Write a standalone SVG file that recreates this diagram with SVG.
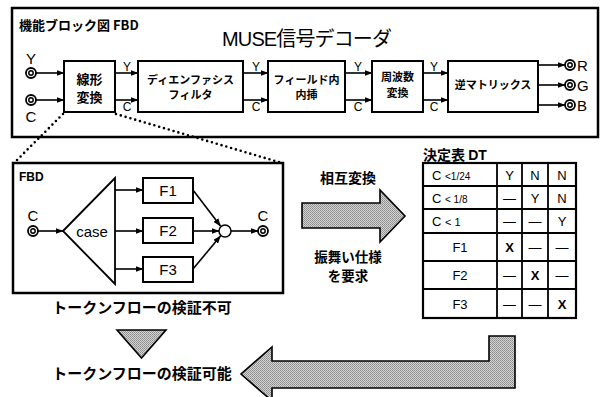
<svg xmlns="http://www.w3.org/2000/svg" width="604" height="397" viewBox="0 0 604 397">
<style>
.box{fill:#fff;stroke:#000;stroke-width:2}
.ln{fill:none;stroke:#000;stroke-width:1.6}
.jp{font-family:"Noto Sans CJK JP","Noto Sans",sans-serif;font-weight:bold;fill:#000}
.lat{font-family:"Liberation Sans",Arial,sans-serif;fill:#000}
.dot{fill:none;stroke:#000;stroke-width:2.6;stroke-linecap:round;stroke-dasharray:0 5}
.gray{fill:url(#dither);stroke:#000;stroke-width:1.6}
</style>
<defs>
<marker id="ah" markerWidth="8" markerHeight="6" refX="7.5" refY="3" orient="auto" markerUnits="userSpaceOnUse">
<path d="M0,0 L8,3 L0,6 Z" fill="#000"/>
</marker>
<pattern id="dither" width="2" height="2" patternUnits="userSpaceOnUse">
<rect width="2" height="2" fill="#d4d4d4"/>
<rect width="1" height="1" fill="#8a8a8a"/>
<rect x="1" y="1" width="1" height="1" fill="#9a9a9a"/>
</pattern>
<g id="jack"><circle r="5" fill="#fff" stroke="#000" stroke-width="1.8"/><circle r="2.2" fill="none" stroke="#000" stroke-width="1.5"/></g>
</defs>

<!-- Top FBD frame -->
<g id="fbd-main">
<rect x="12" y="8" width="586" height="129" fill="#fff" stroke="#000" stroke-width="2.5"/>
<text class="jp" x="19" y="30" font-size="13">機能ブロック図 FBD</text>
<text class="lat" x="222" y="46" font-size="20" textLength="170" font-family="'Liberation Sans','Noto Sans CJK JP',sans-serif">MUSE<tspan font-family="'Noto Sans CJK JP',sans-serif">信号デコーダ</tspan></text>
</g>

<g id="in-Y"><use href="#jack" x="31" y="73"/><text class="lat" x="31" y="64" font-size="15" text-anchor="middle">Y</text></g>
<g id="in-C"><use href="#jack" x="31" y="100"/><text class="lat" x="31" y="122" font-size="15" text-anchor="middle">C</text></g>

<g id="b-linear"><rect class="box" x="64" y="61" width="51" height="51"/>
<text class="jp" x="89.5" y="84" font-size="13" text-anchor="middle">線形</text>
<text class="jp" x="89.5" y="102" font-size="13" text-anchor="middle">変換</text></g>
<g id="b-deemph"><rect class="box" x="138" y="61" width="105" height="51"/>
<text class="jp" x="190.5" y="84" font-size="11" text-anchor="middle">ディエンファシス</text>
<text class="jp" x="190.5" y="99" font-size="11" text-anchor="middle">フィルタ</text></g>
<g id="b-field"><rect class="box" x="268" y="61" width="77" height="51"/>
<text class="jp" x="306.5" y="84" font-size="11" text-anchor="middle">フィールド内</text>
<text class="jp" x="306.5" y="99" font-size="11" text-anchor="middle">内挿</text></g>
<g id="b-freq"><rect class="box" x="372" y="61" width="51" height="51"/>
<text class="jp" x="397.5" y="81" font-size="11" text-anchor="middle">周波数</text>
<text class="jp" x="397.5" y="97" font-size="11" text-anchor="middle">変換</text></g>
<g id="b-matrix"><rect class="box" x="448" y="61" width="90" height="51"/>
<text class="jp" x="493" y="89" font-size="11" text-anchor="middle">逆マトリックス</text></g>

<g id="out-R"><use href="#jack" x="570" y="65"/><text class="lat" x="577" y="70.5" font-size="15">R</text></g>
<g id="out-G"><use href="#jack" x="570" y="85"/><text class="lat" x="577" y="90.5" font-size="15">G</text></g>
<g id="out-B"><use href="#jack" x="570" y="105"/><text class="lat" x="577" y="110.5" font-size="15">B</text></g>

<g id="connectors">
<line class="ln" x1="36" y1="73" x2="64" y2="73" marker-end="url(#ah)"/>
<line class="ln" x1="36" y1="100" x2="64" y2="100" marker-end="url(#ah)"/>
<line class="ln" x1="115" y1="73" x2="138" y2="73" marker-end="url(#ah)"/>
<line class="ln" x1="115" y1="100" x2="138" y2="100" marker-end="url(#ah)"/>
<line class="ln" x1="243" y1="73" x2="268" y2="73" marker-end="url(#ah)"/>
<line class="ln" x1="243" y1="100" x2="268" y2="100" marker-end="url(#ah)"/>
<line class="ln" x1="345" y1="73" x2="372" y2="73" marker-end="url(#ah)"/>
<line class="ln" x1="345" y1="100" x2="372" y2="100" marker-end="url(#ah)"/>
<line class="ln" x1="423" y1="73" x2="448" y2="73" marker-end="url(#ah)"/>
<line class="ln" x1="423" y1="100" x2="448" y2="100" marker-end="url(#ah)"/>
<line class="ln" x1="538" y1="65" x2="565" y2="65" marker-end="url(#ah)"/>
<line class="ln" x1="538" y1="85" x2="565" y2="85" marker-end="url(#ah)"/>
<line class="ln" x1="538" y1="105" x2="565" y2="105" marker-end="url(#ah)"/>
<g class="lat" font-size="12">
<text x="127" y="71" text-anchor="middle">Y</text><text x="127" y="111" text-anchor="middle">C</text>
<text x="256" y="71" text-anchor="middle">Y</text><text x="256" y="111" text-anchor="middle">C</text>
<text x="358" y="71" text-anchor="middle">Y</text><text x="358" y="111" text-anchor="middle">C</text>
<text x="434" y="71" text-anchor="middle">Y</text><text x="434" y="111" text-anchor="middle">C</text>
</g>
<line class="dot" x1="63" y1="114" x2="14" y2="163"/>
<line class="dot" x1="116" y1="114" x2="282" y2="163"/>
<!-- lower FBD -->
<line class="ln" x1="37" y1="231" x2="63" y2="231" marker-end="url(#ah)"/>
<line class="ln" x1="115" y1="190" x2="143" y2="190" marker-end="url(#ah)"/>
<line class="ln" x1="115" y1="231" x2="143" y2="231" marker-end="url(#ah)"/>
<line class="ln" x1="115" y1="269" x2="143" y2="269" marker-end="url(#ah)"/>
<line class="ln" x1="193" y1="190" x2="220.5" y2="226" marker-end="url(#ah)"/>
<line class="ln" x1="193" y1="231" x2="219" y2="231" marker-end="url(#ah)"/>
<line class="ln" x1="193" y1="269" x2="220.5" y2="236" marker-end="url(#ah)"/>
<line class="ln" x1="231" y1="231" x2="258" y2="231" marker-end="url(#ah)"/>
</g>

<g id="fbd-sub">
<rect x="13" y="163" width="270" height="130" fill="none" stroke="#000" stroke-width="2.5"/>
<text class="lat" x="19" y="181" font-size="12" font-weight="bold">FBD</text>
</g>
<g id="sub-in"><use href="#jack" x="33" y="231"/><text class="lat" x="33" y="221" font-size="15" text-anchor="middle">C</text></g>
<g id="case"><path d="M63,231 L115,178 L115,284 Z" fill="#fff" stroke="#000" stroke-width="1.8"/>
<text class="lat" x="92" y="237" font-size="15" text-anchor="middle">case</text></g>
<g id="F1"><rect class="box" x="143" y="178" width="50" height="25" stroke-width="1.8"/><text class="lat" x="168" y="196" font-size="15" text-anchor="middle">F1</text></g>
<g id="F2"><rect class="box" x="143" y="218" width="50" height="25" stroke-width="1.8"/><text class="lat" x="168" y="236" font-size="15" text-anchor="middle">F2</text></g>
<g id="F3"><rect class="box" x="143" y="257" width="50" height="25" stroke-width="1.8"/><text class="lat" x="168" y="275" font-size="15" text-anchor="middle">F3</text></g>
<g id="join"><circle cx="225" cy="231" r="6" fill="#fff" stroke="#000" stroke-width="1.5"/></g>
<g id="sub-out"><use href="#jack" x="263" y="231"/><text class="lat" x="263" y="221" font-size="15" text-anchor="middle">C</text></g>

<text class="jp" x="142" y="313" font-size="15" text-anchor="middle">トークンフローの検証不可</text>
<g id="down-tri"><path class="gray" d="M117,330 L166,330 L141.5,358 Z"/></g>
<text class="jp" x="142" y="379" font-size="15" text-anchor="middle">トークンフローの検証可能</text>

<g id="arrow-right">
<path class="gray" d="M302,203 L380,203 L380,190 L405,216 L380,242 L380,228 L302,228 Z"/>
<text class="jp" x="348" y="183" font-size="14" text-anchor="middle">相互変換</text>
<text class="jp" x="348" y="262" font-size="13.5" text-anchor="middle">振舞い仕様</text>
<text class="jp" x="348" y="281" font-size="13.5" text-anchor="middle">を要求</text>
</g>

<g id="arrow-back">
<path class="gray" d="M515,336 L515,388 L272,388 L272,401 L241,374 L272,347 L272,361 L489,361 L489,336 Z"/>
</g>

<g id="dt">
<text class="jp" x="423" y="160" font-size="14">決定表 <tspan font-family="'Liberation Sans',sans-serif">DT</tspan></text>
<rect x="423" y="163" width="153" height="155" fill="#fff" stroke="#000" stroke-width="2.2"/>
<g stroke="#000" stroke-width="1.8">
<line x1="497" y1="163" x2="497" y2="318"/><line x1="522" y1="163" x2="522" y2="318"/><line x1="548" y1="163" x2="548" y2="318"/>
<line x1="423" y1="186" x2="576" y2="186"/><line x1="423" y1="209" x2="576" y2="209"/><line x1="423" y1="233" x2="576" y2="233"/>
<line x1="423" y1="261" x2="576" y2="261"/><line x1="423" y1="289" x2="576" y2="289"/>
</g>
<g class="lat" font-size="13">
<text x="432" y="180">C <tspan font-size="10">&lt;1/24</tspan></text>
<text x="432" y="203">C <tspan font-size="10">&lt; 1/8</tspan></text>
<text x="432" y="226">C <tspan font-size="11">&lt;  1</tspan></text>
<text x="460" y="252" text-anchor="middle">F1</text>
<text x="460" y="280" text-anchor="middle">F2</text>
<text x="460" y="309" text-anchor="middle">F3</text>
<text x="509.5" y="180" text-anchor="middle">Y</text><text x="535" y="180" text-anchor="middle">N</text><text x="562" y="180" text-anchor="middle">N</text>
<text x="509.5" y="203" text-anchor="middle">—</text><text x="535" y="203" text-anchor="middle">Y</text><text x="562" y="203" text-anchor="middle">N</text>
<text x="509.5" y="226" text-anchor="middle">—</text><text x="535" y="226" text-anchor="middle">—</text><text x="562" y="226" text-anchor="middle">Y</text>
<text x="509.5" y="252" text-anchor="middle" font-weight="bold">X</text><text x="535" y="252" text-anchor="middle">—</text><text x="562" y="252" text-anchor="middle">—</text>
<text x="509.5" y="280" text-anchor="middle">—</text><text x="535" y="280" text-anchor="middle" font-weight="bold">X</text><text x="562" y="280" text-anchor="middle">—</text>
<text x="509.5" y="309" text-anchor="middle">—</text><text x="535" y="309" text-anchor="middle">—</text><text x="562" y="309" text-anchor="middle" font-weight="bold">X</text>
</g>
</g>
</svg>
